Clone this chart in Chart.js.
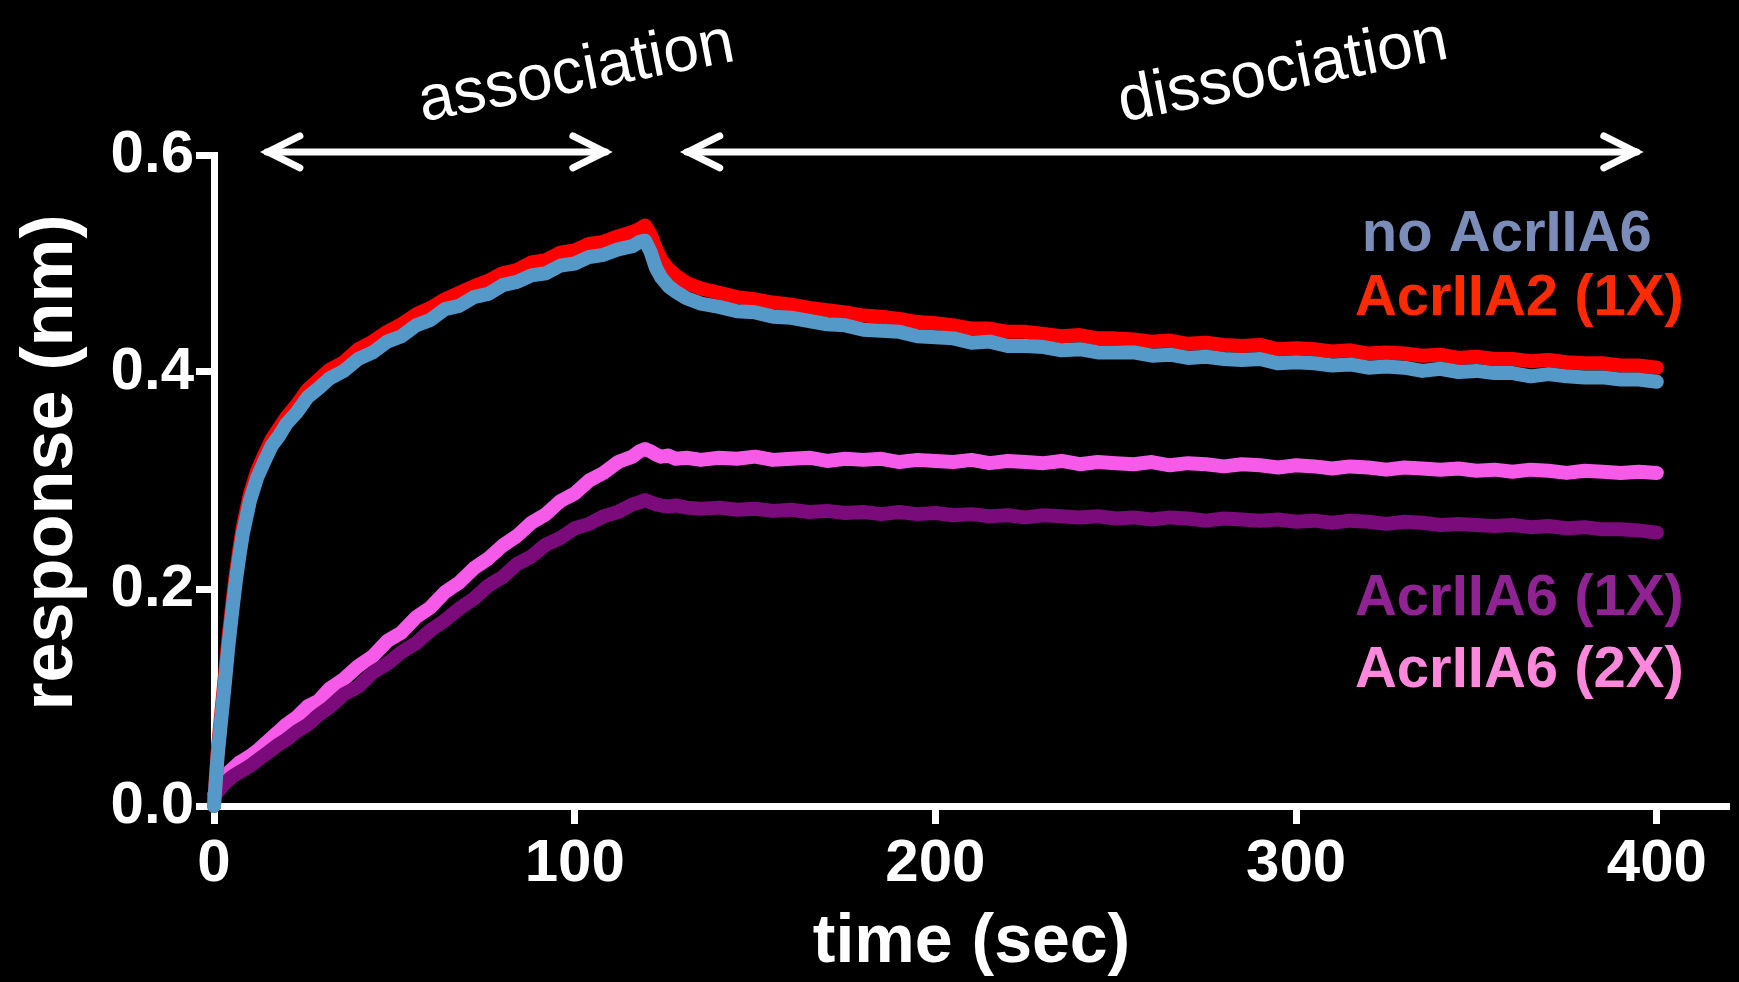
<!DOCTYPE html>
<html lang="en">
<head>
<meta charset="utf-8">
<title>response (nm)</title>
<script src="https://cdn.jsdelivr.net/npm/chart.js@4/dist/chart.umd.min.js"></script>
<style>
    html, body { margin:0; padding:0; background:#000; }
    canvas { display:block; background:#000; }
</style>
</head>
<body>
<canvas id="graficoRespuesta" width="1739" height="982"></canvas>
<script>

// tiempo (sec)
const tiempos = [
    0, 1, 2, 3, 4, 5, 6, 7, 8, 10,
    12, 14, 16, 18, 20, 23, 26, 29, 32, 36,
    40, 44, 48, 52, 56, 60, 64, 68, 72, 76,
    80, 84, 88, 92, 96, 100, 104, 108, 112, 116,
    118, 119.5, 121, 122.5, 124, 126, 128, 131, 135, 140,
    145, 150, 155, 160, 165, 170, 175, 180, 185, 190,
    195, 200, 205, 210, 215, 220, 225, 230, 235, 240,
    245, 250, 255, 260, 265, 270, 275, 280, 285, 290,
    295, 300, 305, 310, 315, 320, 325, 330, 335, 340,
    345, 350, 355, 360, 365, 370, 375, 380, 385, 390,
    395, 400
];

// no AcrIIA6
const sinAcr = [
    0, 0.046, 0.080, 0.113, 0.148, 0.178, 0.206, 0.230, 0.251, 0.282,
    0.303, 0.318, 0.332, 0.341, 0.352, 0.363, 0.377, 0.385, 0.394, 0.401,
    0.412, 0.418, 0.428, 0.433, 0.443, 0.448, 0.458, 0.461, 0.469, 0.472,
    0.480, 0.483, 0.489, 0.491, 0.498, 0.500, 0.506, 0.508, 0.513, 0.516,
    0.520, 0.521, 0.511, 0.496, 0.487, 0.479, 0.474, 0.468, 0.463, 0.460,
    0.456, 0.455, 0.451, 0.450, 0.447, 0.444, 0.443, 0.439, 0.438, 0.437,
    0.433, 0.432, 0.431, 0.427, 0.428, 0.424, 0.424, 0.423, 0.420, 0.421,
    0.418, 0.418, 0.418, 0.415, 0.416, 0.413, 0.414, 0.412, 0.411, 0.412,
    0.408, 0.409, 0.408, 0.406, 0.407, 0.404, 0.405, 0.404, 0.401, 0.403,
    0.400, 0.401, 0.399, 0.399, 0.396, 0.398, 0.396, 0.395, 0.395, 0.393,
    0.393, 0.391
];

// AcrIIA2 (1X)
const acrA2 = [
    0, 0.050, 0.085, 0.119, 0.154, 0.184, 0.212, 0.236, 0.257, 0.288,
    0.309, 0.324, 0.338, 0.348, 0.358, 0.370, 0.384, 0.393, 0.402, 0.409,
    0.421, 0.428, 0.437, 0.444, 0.453, 0.459, 0.467, 0.473, 0.479, 0.484,
    0.491, 0.494, 0.501, 0.503, 0.510, 0.512, 0.518, 0.520, 0.525, 0.529,
    0.532, 0.535, 0.527, 0.514, 0.503, 0.495, 0.489, 0.482, 0.477, 0.473,
    0.469, 0.467, 0.464, 0.462, 0.459, 0.457, 0.455, 0.452, 0.451, 0.449,
    0.446, 0.445, 0.443, 0.440, 0.440, 0.437, 0.437, 0.435, 0.433, 0.434,
    0.431, 0.431, 0.430, 0.428, 0.429, 0.426, 0.427, 0.425, 0.424, 0.425,
    0.421, 0.422, 0.421, 0.419, 0.420, 0.417, 0.418, 0.417, 0.415, 0.416,
    0.413, 0.414, 0.412, 0.412, 0.410, 0.411, 0.409, 0.408, 0.408, 0.406,
    0.406, 0.404
];

// AcrIIA6 (1X)
const acrA6x1 = [
    0.008, 0.013, 0.017, 0.021, 0.024, 0.027, 0.029, 0.031, 0.033, 0.037,
    0.042, 0.047, 0.052, 0.057, 0.061, 0.069, 0.075, 0.084, 0.091, 0.103,
    0.110, 0.123, 0.131, 0.142, 0.150, 0.162, 0.171, 0.182, 0.191, 0.203,
    0.211, 0.223, 0.230, 0.241, 0.247, 0.256, 0.260, 0.267, 0.271, 0.278,
    0.280, 0.282, 0.280, 0.278, 0.277, 0.276, 0.277, 0.275, 0.274, 0.275,
    0.273, 0.274, 0.272, 0.273, 0.271, 0.272, 0.270, 0.271, 0.269, 0.271,
    0.269, 0.270, 0.268, 0.269, 0.267, 0.268, 0.266, 0.268, 0.267, 0.266,
    0.267, 0.265, 0.266, 0.264, 0.266, 0.265, 0.263, 0.265, 0.264, 0.263,
    0.264, 0.262, 0.263, 0.261, 0.263, 0.262, 0.260, 0.262, 0.261, 0.259,
    0.260, 0.259, 0.258, 0.259, 0.257, 0.258, 0.256, 0.257, 0.255, 0.255,
    0.254, 0.252
];

// AcrIIA6 (2X)
const acrA6x2 = [
    0.010, 0.016, 0.022, 0.027, 0.031, 0.034, 0.037, 0.040, 0.042, 0.046,
    0.051, 0.057, 0.063, 0.069, 0.075, 0.082, 0.092, 0.097, 0.108, 0.117,
    0.129, 0.138, 0.152, 0.160, 0.174, 0.183, 0.197, 0.206, 0.219, 0.228,
    0.240, 0.249, 0.261, 0.269, 0.281, 0.288, 0.300, 0.307, 0.317, 0.322,
    0.327, 0.329, 0.327, 0.324, 0.322, 0.323, 0.320, 0.321, 0.319, 0.321,
    0.320, 0.322, 0.319, 0.320, 0.321, 0.318, 0.320, 0.319, 0.320, 0.317,
    0.319, 0.318, 0.317, 0.319, 0.316, 0.318, 0.317, 0.316, 0.318, 0.315,
    0.317, 0.316, 0.315, 0.317, 0.314, 0.316, 0.315, 0.313, 0.315, 0.314,
    0.312, 0.314, 0.313, 0.311, 0.313, 0.312, 0.310, 0.312, 0.311, 0.310,
    0.311, 0.309, 0.310, 0.308, 0.310, 0.309, 0.307, 0.309, 0.308, 0.307,
    0.308, 0.307
];

const ticksX = [0, 100, 200, 300, 400];
const ticksY = [0, 0.2, 0.4, 0.6];

const nombres = ["no AcrIIA6", "AcrIIA2 (1X)", "AcrIIA6 (1X)", "AcrIIA6 (2X)"];

const FUENTE = '"Liberation Sans", Arial, Helvetica, sans-serif';

// rótulos de las curvas, en unidades de los ejes
const rotulos = [
    { texto: nombres[0], t: 318.2, v: 0.5115, color: "#7b8cb9" },
    { texto: nombres[1], t: 316.3, v: 0.4525, color: "#ff2a00" },
    { texto: nombres[2], t: 316.3, v: 0.176,  color: "#8f2391" },
    { texto: nombres[3], t: 316.3, v: 0.1097, color: "#ff88dc" }
];

// fases con flecha doble
const fases = [
    { texto: "association",  desde: 13.0,  hasta: 110.3, tx: 101.4, ty: 0.6590 },
    { texto: "dissociation", desde: 129.4, hasta: 396.1, tx: 297.3, ty: 0.6600 }
];
const nivelFlecha = 0.6028;

function serie(nombre, valores, color) {
    return {
        label: nombre,
        data: tiempos.map((t, i) => ({ x: t, y: valores[i] })),
        borderColor: color,
        borderWidth: 14,
        pointRadius: 0,
        tension: 0,
        borderCapStyle: "round",
        borderJoinStyle: "round",
        fill: false,
        clip: false
    };
}

function punta(ctx, px, py, dir) {
    // chevron abierto; el vértice se retrasa por el inglete
    const vx = px - dir * 7;
    ctx.beginPath();
    ctx.moveTo(vx - dir * 32, py - 16);
    ctx.lineTo(vx, py);
    ctx.lineTo(vx - dir * 32, py + 16);
    ctx.stroke();
}

const anotaciones = {
    id: "anotaciones",
    afterDatasetsDraw(chart) {
        const ctx = chart.ctx;
        const x = chart.scales.x;
        const y = chart.scales.y;

        ctx.save();
        ctx.strokeStyle = "#fff";
        ctx.fillStyle = "#fff";
        ctx.lineWidth = 7;
        ctx.lineCap = "round";
        ctx.lineJoin = "miter";

        const yy = y.getPixelForValue(nivelFlecha);

        fases.forEach(f => {
            const x1 = x.getPixelForValue(f.desde);
            const x2 = x.getPixelForValue(f.hasta);
            ctx.beginPath();
            ctx.moveTo(x1 + 6, yy);
            ctx.lineTo(x2 - 6, yy);
            ctx.stroke();
            punta(ctx, x1, yy, -1);
            punta(ctx, x2, yy, 1);

            ctx.save();
            ctx.translate(x.getPixelForValue(f.tx), y.getPixelForValue(f.ty));
            ctx.rotate(-11 * Math.PI / 180);
            ctx.font = "64px " + FUENTE;
            ctx.textAlign = "center";
            ctx.textBaseline = "alphabetic";
            ctx.fillText(f.texto, 0, 0);
            ctx.restore();
        });

        ctx.font = "bold 58px " + FUENTE;
        ctx.textAlign = "left";
        ctx.textBaseline = "alphabetic";
        rotulos.forEach(r => {
            ctx.fillStyle = r.color;
            ctx.fillText(r.texto, x.getPixelForValue(r.t), y.getPixelForValue(r.v));
        });

        ctx.restore();
    }
};

const ctx = document.getElementById("graficoRespuesta");

new Chart(ctx, {
    type: "line",
    data: {
        datasets: [
            serie(nombres[0], sinAcr, "#5499c7"),
            serie(nombres[1], acrA2, "#ff0000"),
            serie(nombres[2], acrA6x1, "#7b0a7b"),
            serie(nombres[3], acrA6x2, "#f55ae8")
        ]
    },
    options: {
        responsive: false,
        animation: false,
        layout: {
            padding: { top: 155, right: 10, bottom: 0, left: 0 }
        },
        plugins: {
            legend: { display: false },
            tooltip: { enabled: false }
        },
        scales: {
            x: {
                type: "linear",
                min: 0,
                max: 420,
                afterBuildTicks: s => { s.ticks = ticksX.map(v => ({ value: v })); },
                afterFit: s => { s.height = 176; },
                grid: {
                    display: true,
                    drawOnChartArea: false,
                    drawTicks: true,
                    tickLength: 18,
                    tickWidth: 7,
                    color: "#fff"
                },
                border: { display: true, color: "#fff", width: 7 },
                ticks: {
                    color: "#fff",
                    padding: 4,
                    maxRotation: 0,
                    font: { family: FUENTE, size: 60, weight: "bold" }
                },
                title: {
                    display: true,
                    text: "time (sec)",
                    color: "#fff",
                    padding: { top: 0, bottom: 0 },
                    font: { family: FUENTE, size: 68, weight: "bold", lineHeight: 1.14 }
                }
            },
            y: {
                min: 0,
                max: 0.6,
                afterBuildTicks: s => { s.ticks = ticksY.map(v => ({ value: v })); },
                afterFit: s => { s.width = 214; },
                grid: {
                    display: true,
                    drawOnChartArea: false,
                    drawTicks: true,
                    tickLength: 18,
                    tickWidth: 7,
                    color: "#fff"
                },
                border: { display: true, color: "#fff", width: 7 },
                ticks: {
                    color: "#fff",
                    padding: 2,
                    callback: v => v.toFixed(1),
                    font: { family: FUENTE, size: 60, weight: "bold" }
                },
                title: {
                    display: true,
                    // el espacio inicial sube el rótulo, como en el original
                    text: "\u2002response (nm)",
                    color: "#fff",
                    padding: { top: 9, bottom: 0 },
                    font: { family: FUENTE, size: 72, weight: "bold", lineHeight: 1.2 }
                }
            }
        }
    },
    plugins: [anotaciones]
});

</script>
</body>
</html>
